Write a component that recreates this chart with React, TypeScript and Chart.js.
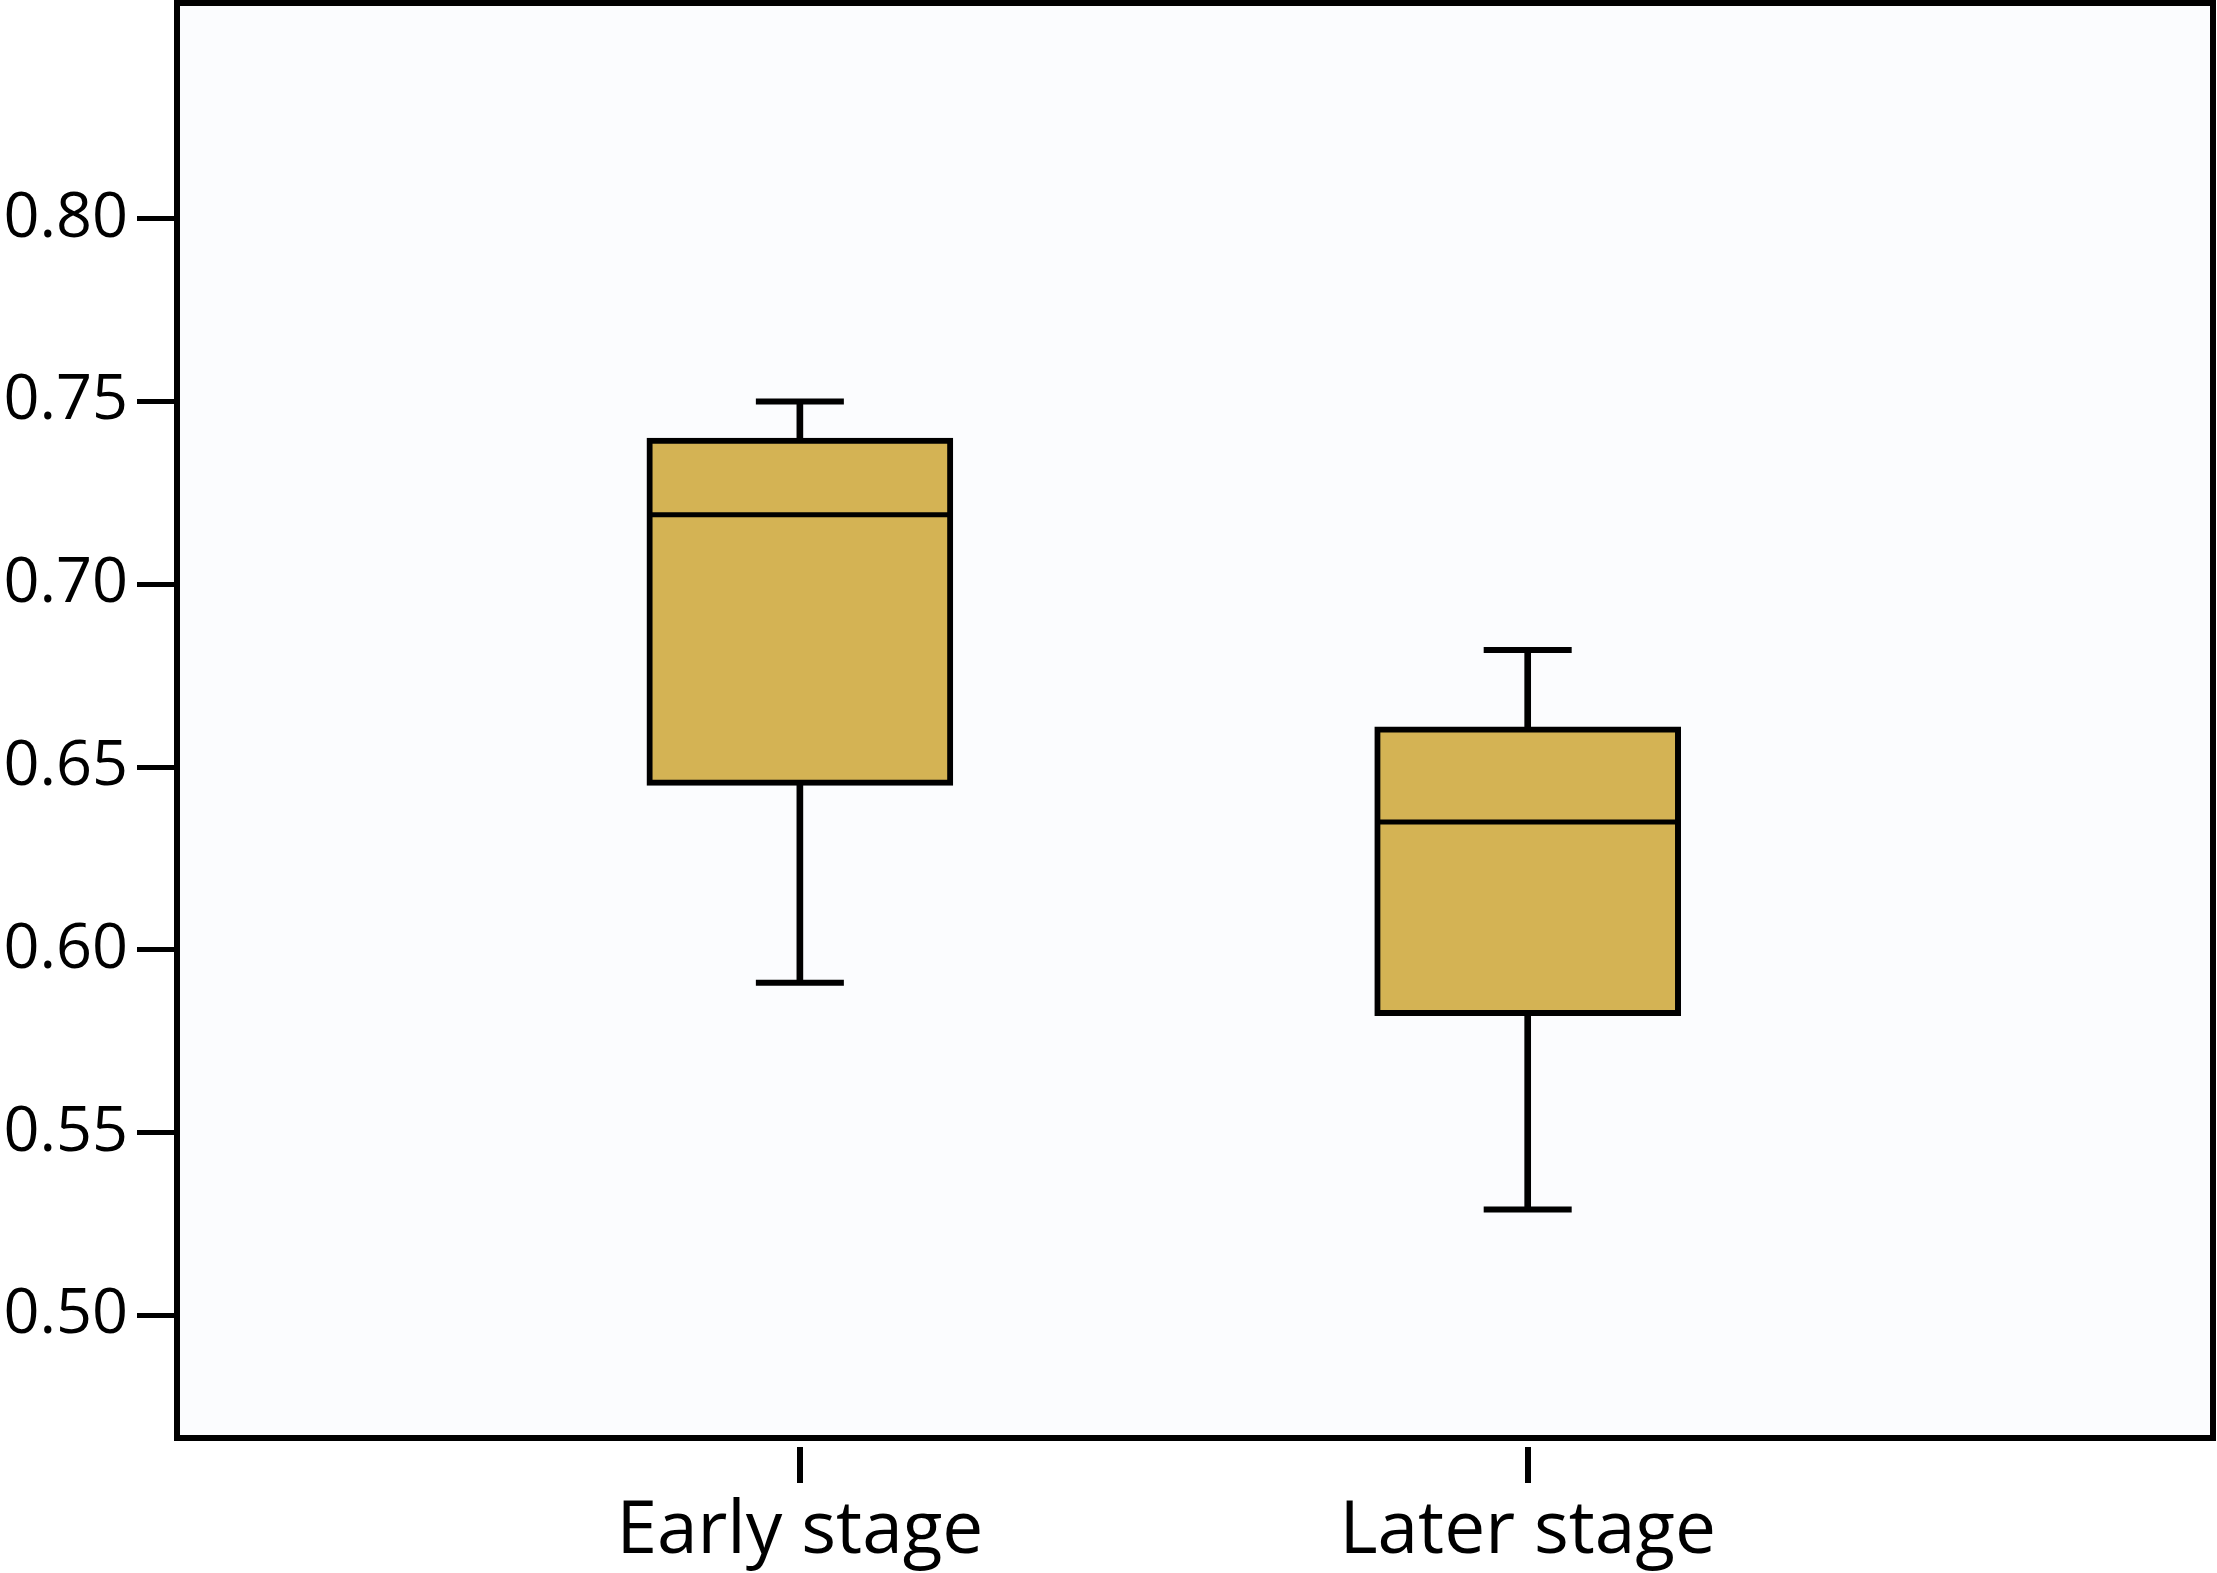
import React, { useEffect, useRef } from "react";
import { Chart, registerables } from "chart.js";

Chart.register(...registerables);

const categories = ["Early stage", "Later stage"];
const categoryPositions = [1, 2];
const whiskerMin = [0.591, 0.529];
const q1 = [0.645, 0.582];
const median = [0.719, 0.635];
const q3 = [0.74, 0.661];
const whiskerMax = [0.75, 0.682];
const yTickValues = [0.5, 0.55, 0.6, 0.65, 0.7, 0.75, 0.8];

const W = 2217;
const H = 1573;

const framePlugin = {
  id: "frame",
  beforeDraw(chart: any) {
    const { ctx, chartArea } = chart;
    ctx.save();
    ctx.fillStyle = "#ffffff";
    ctx.fillRect(0, 0, chart.width, chart.height);
    ctx.fillStyle = "#fbfcfe";
    ctx.fillRect(chartArea.left, chartArea.top, chartArea.right - chartArea.left, chartArea.bottom - chartArea.top);
    ctx.restore();
  },
  afterDraw(chart: any) {
    const { ctx, chartArea } = chart;
    ctx.save();
    ctx.strokeStyle = "#000000";
    ctx.lineWidth = 6;
    ctx.strokeRect(chartArea.left, chartArea.top, chartArea.right - chartArea.left, chartArea.bottom - chartArea.top);
    ctx.restore();
  },
};

const zeroPadding = (scale: any) => {
  scale.paddingLeft = 0;
  scale.paddingRight = 0;
  scale.paddingTop = 0;
  scale.paddingBottom = 0;
};

export default function App() {
  const ref = useRef<HTMLCanvasElement | null>(null);

  useEffect(() => {
    document.body.style.margin = "0";
    if (!ref.current) return;
    const pts = (vals: number[]) => vals.map((v, i) => ({ x: categoryPositions[i], y: v }));
    const chart = new Chart(ref.current, {
      type: "bar",
      data: {
        datasets: [
          {
            type: "bar",
            label: "box",
            data: categoryPositions.map((x, i) => ({ x, y: [q1[i], q3[i]] })) as any,
            backgroundColor: "#d4b354",
            borderColor: "#000000",
            borderWidth: 6,
            borderSkipped: false,
            barThickness: 306,
            grouped: false,
            order: 1,
          } as any,
          {
            type: "bar",
            label: "whisker",
            data: categoryPositions.map((x, i) => ({ x, y: [whiskerMin[i], whiskerMax[i]] })) as any,
            backgroundColor: "#000000",
            borderWidth: 0,
            barThickness: 6,
            grouped: false,
            order: 3,
          } as any,
          {
            type: "scatter",
            label: "median",
            data: pts(median),
            pointStyle: "line",
            pointRadius: 150,
            pointHoverRadius: 150,
            pointBorderWidth: 5,
            pointBorderColor: "#000000",
            borderColor: "#000000",
            order: 0,
          } as any,
          {
            type: "scatter",
            label: "caps",
            data: [...pts(whiskerMin), ...pts(whiskerMax)],
            pointStyle: "line",
            pointRadius: 44,
            pointHoverRadius: 44,
            pointBorderWidth: 6,
            pointBorderColor: "#000000",
            borderColor: "#000000",
            order: 0,
          } as any,
        ],
      },
      options: {
        animation: false,
        responsive: false,
        devicePixelRatio: 1,
        layout: { autoPadding: false, padding: { top: 3, right: 4, left: 0, bottom: 0 } },
        plugins: { legend: { display: false }, title: { display: false }, tooltip: { enabled: false } },
        scales: {
          x: {
            type: "linear",
            min: 0.1442,
            max: 2.9416,
            offset: false,
            border: { display: false },
            grid: {
              offset: false,
              drawOnChartArea: false,
              drawTicks: true,
              tickLength: 46,
              tickBorderDash: [0, 9, 36, 200],
              color: "#000000",
              lineWidth: 6,
            },
            afterBuildTicks: (scale: any) => {
              scale.ticks = categoryPositions.map((v) => ({ value: v }));
            },
            afterFit: (scale: any) => {
              scale.height = 135;
              zeroPadding(scale);
            },
            ticks: {
              color: "#000000",
              font: { family: "'Open Sans'", size: 73 },
              padding: 4,
              maxRotation: 0,
              minRotation: 0,
              autoSkip: false,
              callback: (v: any) => {
                const i = categoryPositions.indexOf(Number(v));
                return i >= 0 ? categories[i] : "";
              },
            },
          },
          y: {
            type: "linear",
            min: 0.4665,
            max: 0.859,
            border: { display: false },
            grid: {
              drawOnChartArea: false,
              drawTicks: true,
              tickLength: 40,
              color: "#000000",
              lineWidth: 5,
            },
            afterBuildTicks: (scale: any) => {
              scale.ticks = yTickValues.map((v) => ({ value: v }));
            },
            afterFit: (scale: any) => {
              scale.width = 177;
              zeroPadding(scale);
            },
            ticks: {
              color: "#000000",
              font: { family: "'Open Sans'", size: 63 },
              padding: 9,
              callback: (v: any) => Number(v).toFixed(2),
            },
          },
        },
      },
      plugins: [framePlugin],
    });
    return () => chart.destroy();
  }, []);

  return (
    <div style={{ width: W, height: H }}>
      <canvas ref={ref} width={W} height={H} style={{ display: "block", width: W, height: H }} />
    </div>
  );
}
